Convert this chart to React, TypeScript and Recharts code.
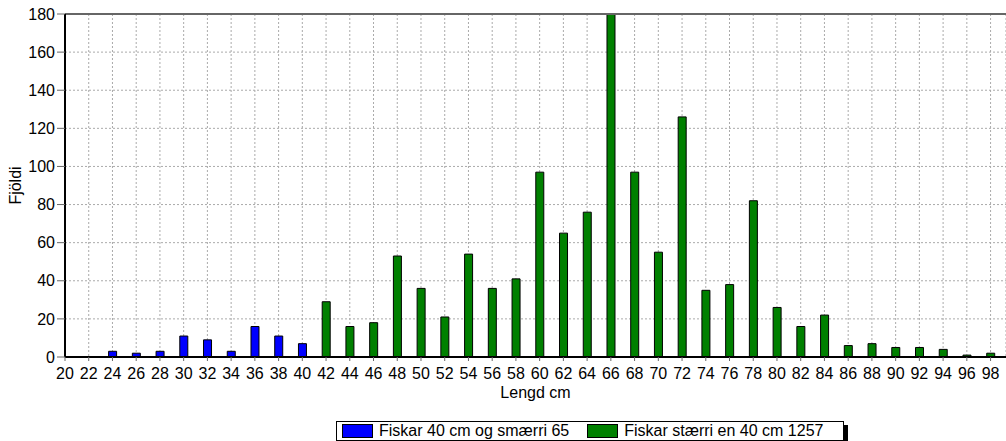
import React from 'react';
import { BarChart, Bar, XAxis, YAxis, CartesianGrid, ReferenceLine, Label } from 'recharts';

const lengths = [20, 22, 24, 26, 28, 30, 32, 34, 36, 38, 40, 42, 44, 46, 48, 50, 52, 54, 56, 58, 60, 62, 64, 66, 68, 70, 72, 74, 76, 78, 80, 82, 84, 86, 88, 90, 92, 94, 96, 98];
const smallFish = [0, 0, 3, 2, 3, 11, 9, 3, 16, 11, 7, 0, 0, 0, 0, 0, 0, 0, 0, 0, 0, 0, 0, 0, 0, 0, 0, 0, 0, 0, 0, 0, 0, 0, 0, 0, 0, 0, 0, 0];
const largeFish = [0, 0, 0, 0, 0, 0, 0, 0, 0, 0, 0, 29, 16, 18, 53, 36, 21, 54, 36, 41, 97, 65, 76, 188, 97, 55, 126, 35, 38, 82, 26, 16, 22, 6, 7, 5, 5, 4, 1, 2];
const yTicks = [0, 20, 40, 60, 80, 100, 120, 140, 160, 180];
const yMinorTicks = [0, 5, 10, 15, 20, 25, 30, 35, 40, 45, 50, 55, 60, 65, 70, 75, 80, 85, 90, 95, 100, 105, 110, 115, 120, 125, 130, 135, 140, 145, 150, 155, 160, 165, 170, 175, 180];
const smallName = 'Fiskar 40 cm og smærri 65';
const largeName = 'Fiskar stærri en 40 cm 1257';

const data = lengths.map((len, i) => ({ len, small: smallFish[i], large: largeFish[i] }));

const FONT = '"Liberation Sans", Arial, sans-serif';

export default function App() {
  return (
    <div style={{ position: 'absolute', left: 0, top: 0, width: 1006, height: 441, fontFamily: FONT, background: '#fff' }}>
      <BarChart width={1006} height={441} data={data} margin={{ top: 14, right: 0, left: 0, bottom: 0 }}>
        <CartesianGrid stroke="#aaa" strokeDasharray="2 2" yAxisId="main" />
        <XAxis
          dataKey="len"
          type="number"
          domain={[20, 99.3]}
          ticks={lengths}
          interval={0}
          height={84}
          tickSize={4}
          tickMargin={7}
          tick={{ fill: '#000', fontSize: 16 }}
          axisLine={{ stroke: '#000', strokeWidth: 2 }}
          tickLine={{ stroke: '#666' }}
          allowDataOverflow
        >
          <Label value="Lengd cm" position="insideTop" offset={30} fill="#000" fontSize={16} />
        </XAxis>
        <YAxis
          yAxisId="minor"
          width={0}
          domain={[0, 180]}
          ticks={yMinorTicks}
          interval={0}
          allowDataOverflow
          tick={false}
          tickSize={4}
          axisLine={false}
          tickLine={{ stroke: '#666' }}
        />
        <YAxis
          yAxisId="main"
          width={65}
          domain={[0, 180]}
          ticks={yTicks}
          interval={0}
          allowDataOverflow
          tickSize={8}
          tickMargin={2}
          tick={{ fill: '#000', fontSize: 16 }}
          axisLine={{ stroke: '#000', strokeWidth: 2 }}
          tickLine={{ stroke: '#666' }}
        >
          <Label value="Fjöldi" angle={-90} position="insideLeft" offset={15} fill="#000" fontSize={16} style={{ textAnchor: 'middle' }} />
        </YAxis>
        <ReferenceLine yAxisId="main" y={180} stroke="#666" strokeWidth={2} />
        <Bar yAxisId="main" dataKey="small" name={smallName} stackId="a" fill="#0000ff" stroke="#000" strokeWidth={1} barSize={8} isAnimationActive={false} />
        <Bar yAxisId="main" dataKey="large" name={largeName} stackId="a" fill="#008000" stroke="#000" strokeWidth={1} barSize={8} isAnimationActive={false} />
      </BarChart>
      <div
        style={{
          position: 'absolute',
          left: 336,
          top: 421,
          width: 506,
          height: 18,
          border: '1px solid #000',
          boxShadow: '4px 4px 0 #000',
          background: '#fff',
          display: 'flex',
          alignItems: 'center',
          fontSize: 16,
          color: '#000',
          whiteSpace: 'nowrap',
        }}
      >
        <span style={{ display: 'inline-block', width: 29, height: 12, background: '#0000ff', border: '1px solid #000', marginLeft: 5 }} />
        <span style={{ marginLeft: 6 }}>{smallName}</span>
        <span style={{ display: 'inline-block', width: 29, height: 12, background: '#008000', border: '1px solid #000', marginLeft: 18 }} />
        <span style={{ marginLeft: 6 }}>{largeName}</span>
      </div>
    </div>
  );
}
